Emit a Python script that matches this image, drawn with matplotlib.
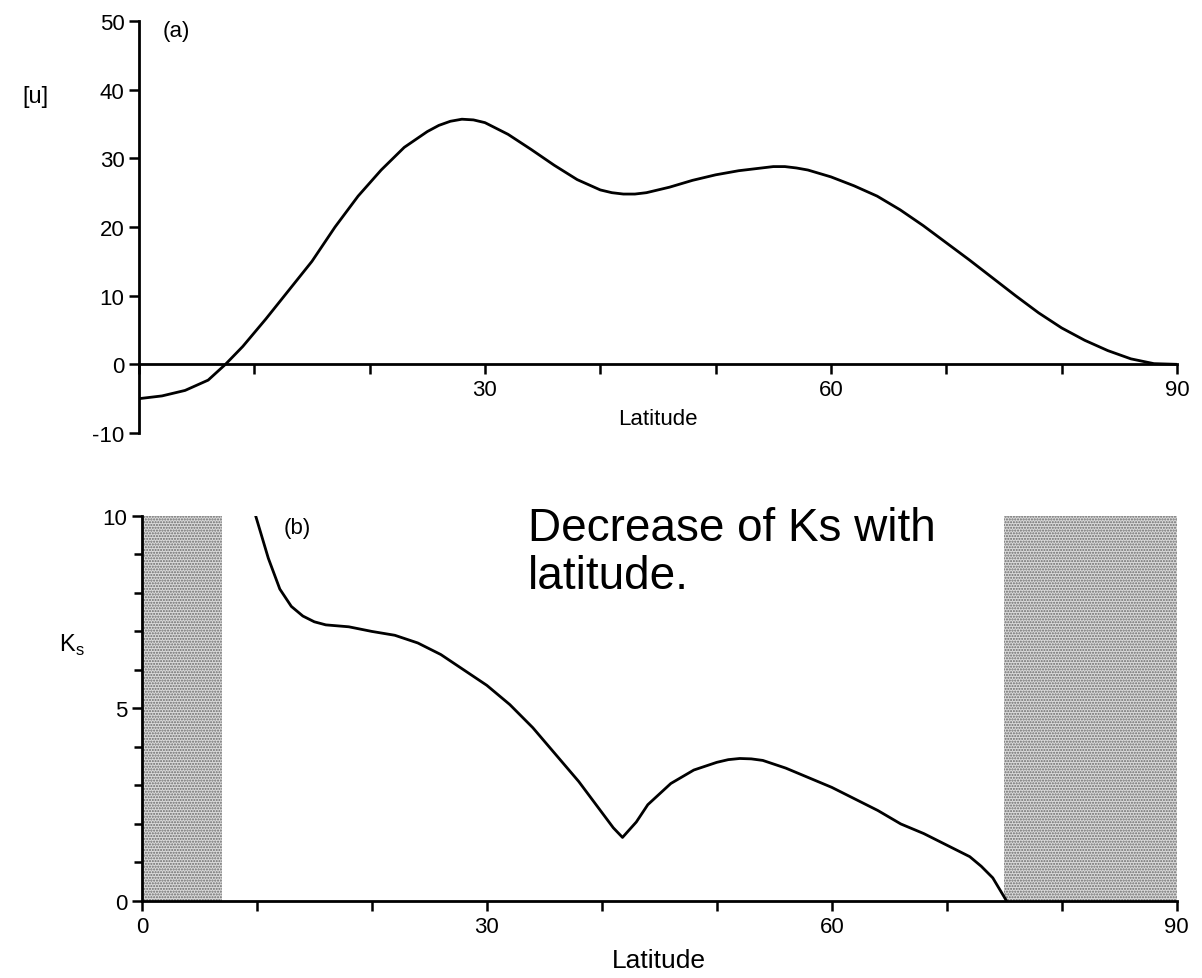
import numpy as np
import matplotlib.pyplot as plt

plt.rcParams['font.family'] = ['Liberation Sans', 'DejaVu Sans']
plt.rcParams['axes.unicode_minus'] = False

# panel (a): zonal mean wind [u] against latitude
lat_a = [0, 2, 4, 6, 7.5, 9, 11, 13, 15, 17, 19, 21, 23, 25, 26, 27, 28, 29, 30,
         32, 34, 36, 38, 40, 41, 42, 43, 44, 46, 48, 50, 52, 54, 55, 56, 57, 58,
         60, 62, 64, 66, 68, 70, 72, 74, 76, 78, 80, 82, 84, 86, 88, 90]
u_a = [-5.0, -4.6, -3.8, -2.3, 0.0, 2.6, 6.6, 10.8, 15.0, 20.0, 24.5, 28.3, 31.6,
       33.9, 34.8, 35.4, 35.7, 35.6, 35.2, 33.5, 31.3, 29.0, 26.9, 25.4, 25.0,
       24.8, 24.8, 25.0, 25.8, 26.8, 27.6, 28.2, 28.6, 28.8, 28.8, 28.6, 28.3,
       27.3, 26.0, 24.5, 22.5, 20.2, 17.7, 15.2, 12.6, 10.0, 7.5, 5.3, 3.5, 2.0,
       0.8, 0.1, 0.0]

# panel (b): stationary wavenumber Ks against latitude
lat_b = [9.9, 10.5, 11, 12, 13, 14, 15, 16, 18, 20, 22, 24, 26, 28, 30, 32, 34,
         36, 38, 40, 41, 41.8, 43, 44, 46, 48, 50, 51, 52, 53, 54, 56, 58, 60, 62,
         64, 66, 68, 70, 72, 73, 74, 74.6, 75.2]
ks_b = [10.0, 9.4, 8.9, 8.1, 7.65, 7.4, 7.25, 7.17, 7.12, 7.0, 6.9, 6.7, 6.4,
        6.0, 5.6, 5.1, 4.5, 3.8, 3.1, 2.3, 1.9, 1.65, 2.05, 2.5, 3.05, 3.4, 3.6,
        3.67, 3.7, 3.69, 3.65, 3.45, 3.2, 2.95, 2.65, 2.35, 2.0, 1.75, 1.45, 1.15,
        0.9, 0.6, 0.3, 0.0]

shade_spans = [(0, 7), (75, 90)]
ticks_x = [0, 10, 20, 30, 40, 50, 60, 70, 80, 90]
labels_x_a = ['', '', '', '30', '', '', '60', '', '', '90']
labels_x_b = ['0', '', '', '30', '', '', '60', '', '', '90']

fig = plt.figure(figsize=(12.02, 9.79), dpi=100)
ax1 = fig.add_axes([0.1156, 0.5567, 0.8636, 0.4208])
ax2 = fig.add_axes([0.118, 0.0787, 0.861, 0.3933])

for ax in (ax1, ax2):
    ax.spines['top'].set_visible(False)
    ax.spines['right'].set_visible(False)
    ax.spines['left'].set_linewidth(2)
    ax.spines['bottom'].set_linewidth(2)
    ax.tick_params(which='both', direction='out', width=1.8, labelsize=16)
    ax.tick_params(which='major', length=7)
    ax.tick_params(which='minor', length=6)
    ax.set_xlim(0, 90)

# top panel
ax1.plot(lat_a, u_a, color='black', lw=2)
ax1.set_ylim(-10, 50)
ax1.spines['bottom'].set_position(('data', 0))
ax1.set_xticks(ticks_x)
ax1.set_xticklabels(labels_x_a)
ax1.set_yticks([-10, 0, 10, 20, 30, 40, 50])
ax1.set_xlabel('Latitude', fontsize=16, labelpad=6)
ax1.text(3.2, 48.6, '(a)', fontsize=16, ha='center', va='center')
fig.text(35 / 1202, 1 - 97 / 979, '[u]', fontsize=17, ha='center', va='center')

# bottom panel
for lo, hi in shade_spans:
    ax2.axvspan(lo, hi, ymin=0, ymax=1, facecolor='#dadada', edgecolor='#6a6a6a',
                hatch='......', linewidth=0)
ax2.plot(lat_b, ks_b, color='black', lw=2)
ax2.set_ylim(0, 10)
ax2.set_xticks(ticks_x)
ax2.set_xticklabels(labels_x_b)
ax2.set_yticks([0, 5, 10])
ax2.set_yticks(np.arange(0, 11, 1), minor=True)
ax2.set_xlabel('Latitude', fontsize=19, labelpad=8)
ax2.text(13.5, 9.7, '(b)', fontsize=16, ha='center', va='center')
fig.text(72 / 1202, 1 - 645 / 979, r'K$_\mathregular{s}$', fontsize=17,
         ha='center', va='center')

fig.text(528 / 1202, 1 - 507 / 979, 'Decrease of Ks with\nlatitude.',
         fontsize=33, ha='left', va='top', linespacing=1.12)

fig.savefig('out.png', dpi=100)
